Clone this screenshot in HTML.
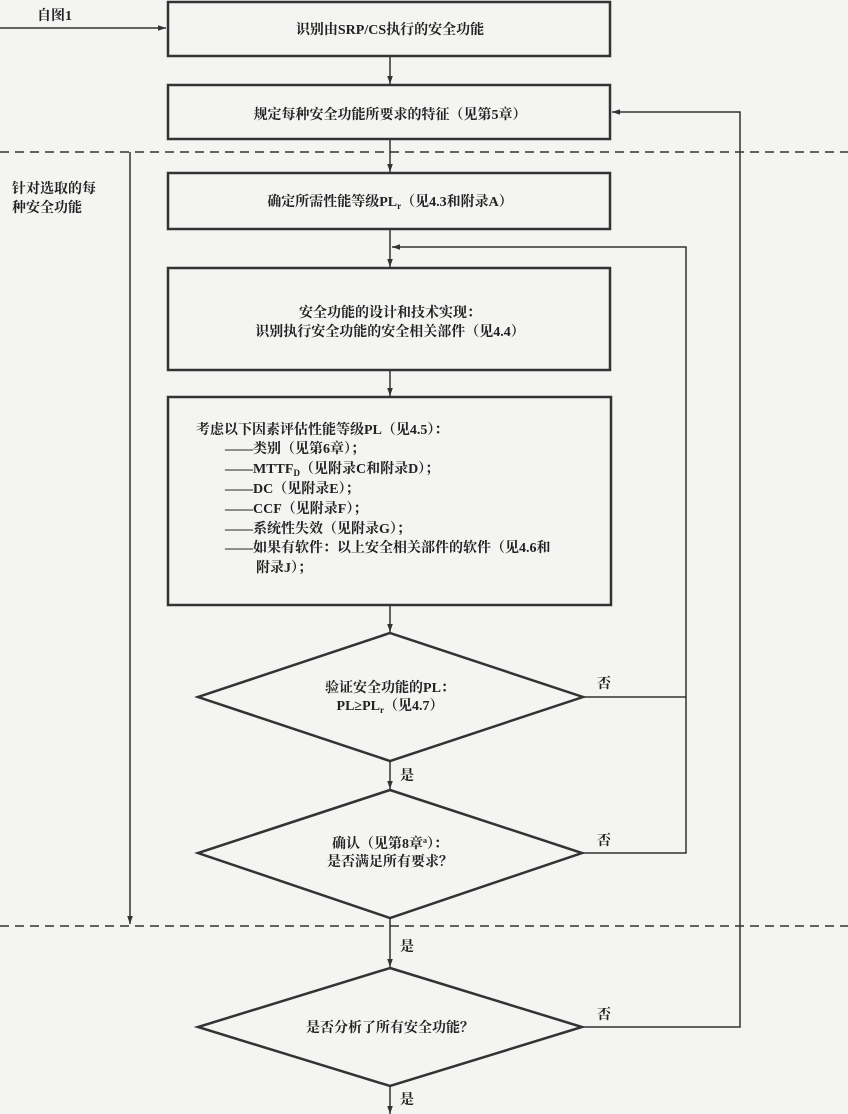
<!DOCTYPE html>
<html><head><meta charset="utf-8"><style>
body{margin:0;background:#f4f4f2;}
svg{display:block}
text{font-family:"Liberation Serif","Noto Serif CJK SC",serif;font-size:14px;font-weight:bold;fill:#222}
</style></head><body>
<svg width="848" height="1114" viewBox="0 0 848 1114" xmlns="http://www.w3.org/2000/svg">
<defs><marker id="a" viewBox="0 0 10 10" refX="10" refY="5" markerWidth="8" markerHeight="8" markerUnits="userSpaceOnUse" orient="auto"><path d="M0,1.5 L10,5 L0,8.5z" fill="#333"/></marker></defs>
<g stroke="#333" stroke-width="1.5" fill="none">
<rect x="168" y="2" width="442" height="54" stroke-width="2.5"/>
<rect x="168" y="85" width="442" height="54" stroke-width="2.5"/>
<rect x="168" y="173" width="442" height="56" stroke-width="2.5"/>
<rect x="168" y="268" width="442" height="102" stroke-width="2.5"/>
<rect x="168" y="397" width="443" height="208" stroke-width="2.5"/>
<polygon points="390,633 583,697 390,761 198,697" stroke-width="2.5"/>
<polygon points="390,790 582,853 390,918 198,853" stroke-width="2.5"/>
<polygon points="390,968 582,1027 390,1086 198,1027" stroke-width="2.5"/>
<line x1="0" y1="28" x2="166" y2="28" marker-end="url(#a)"/>
<line x1="390" y1="56" x2="390" y2="84" marker-end="url(#a)"/>
<line x1="390" y1="139" x2="390" y2="172" marker-end="url(#a)"/>
<line x1="390" y1="229" x2="390" y2="267" marker-end="url(#a)"/>
<line x1="390" y1="370" x2="390" y2="396" marker-end="url(#a)"/>
<line x1="390" y1="605" x2="390" y2="632" marker-end="url(#a)"/>
<line x1="390" y1="761" x2="390" y2="789" marker-end="url(#a)"/>
<line x1="390" y1="918" x2="390" y2="967" marker-end="url(#a)"/>
<line x1="390" y1="1086" x2="390" y2="1114" marker-end="url(#a)"/>
<polyline points="583,697 686,697 686,247 392,247" marker-end="url(#a)"/>
<polyline points="582,853 686,853 686,697"/>
<polyline points="582,1027 740,1027 740,112 612,112" marker-end="url(#a)"/>
<line x1="130" y1="152" x2="130" y2="924" marker-end="url(#a)"/>
<line x1="0" y1="152" x2="848" y2="152" stroke-dasharray="9,6"/>
<line x1="0" y1="926" x2="848" y2="926" stroke-dasharray="9,6"/>
</g>
<text x="37" y="20">自图1</text>
<text x="12" y="193">针对选取的每</text>
<text x="12" y="212">种安全功能</text>
<text x="390" y="34" text-anchor="middle">识别由SRP/CS执行的安全功能</text>
<text x="390" y="119" text-anchor="middle">规定每种安全功能所要求的特征（见第5章）</text>
<text x="390" y="206" text-anchor="middle">确定所需性能等级PL<tspan font-size="9" dy="3">r</tspan><tspan dy="-3">（见4.3和附录A）</tspan></text>
<text x="390" y="317" text-anchor="middle">安全功能的设计和技术实现：</text>
<text x="390" y="336" text-anchor="middle">识别执行安全功能的安全相关部件（见4.4）</text>
<text x="196" y="434">考虑以下因素评估性能等级PL（见4.5）：</text>
<text x="225" y="453">——类别（见第6章）；</text>
<text x="225" y="473">——MTTF<tspan font-size="9" dy="3">D</tspan><tspan dy="-3">（见附录C和附录D）；</tspan></text>
<text x="225" y="493">——DC（见附录E）；</text>
<text x="225" y="513">——CCF（见附录F）；</text>
<text x="225" y="533">——系统性失效（见附录G）；</text>
<text x="225" y="552">——如果有软件：以上安全相关部件的软件（见4.6和</text>
<text x="256" y="572">附录J）；</text>
<text x="390" y="692" text-anchor="middle">验证安全功能的PL：</text>
<text x="390" y="710" text-anchor="middle">PL≥PL<tspan font-size="9" dy="3">r</tspan><tspan dy="-3">（见4.7）</tspan></text>
<text x="390" y="848" text-anchor="middle">确认（见第8章<tspan font-size="8" dy="-5">a</tspan><tspan dy="5">）：</tspan></text>
<text x="390" y="866" text-anchor="middle">是否满足所有要求？</text>
<text x="390" y="1032" text-anchor="middle">是否分析了所有安全功能？</text>
<text x="597" y="688">否</text>
<text x="597" y="845">否</text>
<text x="597" y="1019">否</text>
<text x="400" y="780">是</text>
<text x="400" y="951">是</text>
<text x="400" y="1104">是</text>
</svg>
</body></html>
